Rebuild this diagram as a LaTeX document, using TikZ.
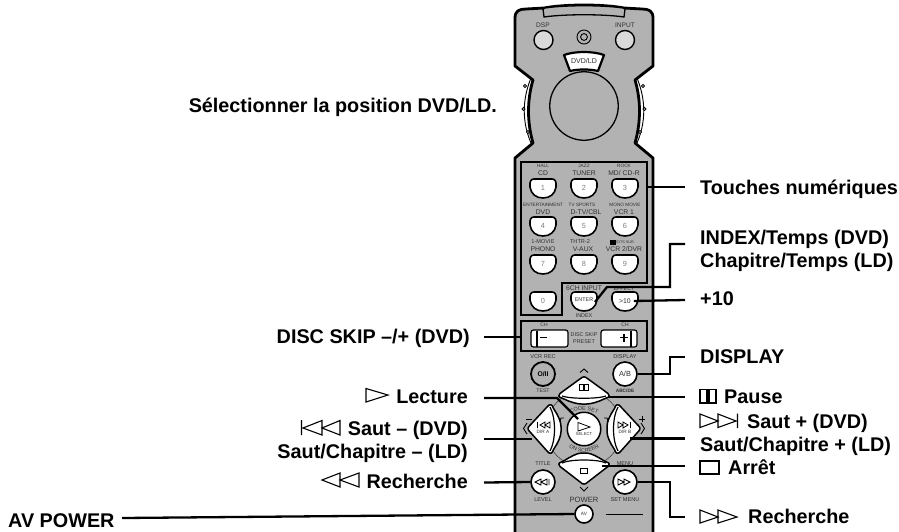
\documentclass[tikz,border=0pt]{standalone}
\usepackage{fontspec}
\setmainfont{Liberation Sans}
\usetikzlibrary{decorations.text}
\definecolor{bodygray}{HTML}{B2B2B2}
\definecolor{keygray}{HTML}{DADADA}
\definecolor{inkgray}{HTML}{303030}
\tikzset{
  lab/.style={font=\fontsize{19.8}{22}\selectfont\bfseries,inner sep=0pt,text=black},
  labR/.style={lab,anchor=base east},
  labL/.style={lab,anchor=base west},
  con/.style={draw=black,line width=2.3pt,line join=miter},
  sym/.style={draw=black,line width=1.1pt,fill=white,line join=miter},
  tiny1/.style={font=\fontsize{4.7}{5}\selectfont,text=inkgray,inner sep=0pt},
  small1/.style={font=\fontsize{6.8}{7}\selectfont,text=inkgray,inner sep=0pt},
  outline/.style={draw=black,line width=2.8pt,line join=round},
  roundbtn/.style={circle,draw=black,line width=1.6pt,fill=white,inner sep=0pt,minimum size=#1,font=\fontsize{6.8}{7}\selectfont,text=inkgray},
  pad/.style={draw=black,line width=1.5pt,fill=white,rounded corners=2.5pt,line join=round},
}
\newcommand{\keybtn}[3]{%
  \draw[draw=black,line width=1.6pt,fill=white] (#1-13,#2+8) .. controls (#1-13.5,#2+2) and (#1-12,#2) .. (#1-9,#2) -- (#1+9,#2) .. controls (#1+12,#2) and (#1+13.5,#2+2) .. (#1+13,#2+8) .. controls (#1+12,#2+15) and (#1+7,#2+19) .. (#1,#2+19) .. controls (#1-7,#2+19) and (#1-12,#2+15) .. (#1-13,#2+8) -- cycle;
  \node[small1,font=\fontsize{7.4}{8}\selectfont,text=gray] at (#1,#2+9) {#3};}
\begin{document}
\begin{tikzpicture}[x=1pt,y=-1pt]
\useasboundingbox (0,0) rectangle (899,531);
\clip (0,0) rectangle (899,531);
% side grips
\foreach \m in {0,1}{
\begin{scope}[shift={(1168*\m,0)},xscale={1-2*\m}]
  \fill[white] (531,78) .. controls (522,100) and (522,122) .. (531,143) -- (536,140) -- (536,80) -- cycle;
  \draw[line width=.9pt] (531,78) .. controls (522,100) and (522,122) .. (531,143);
  \draw[line width=.8pt,fill=bodygray] (525,86) circle (1.6);
  \draw[line width=.8pt,fill=bodygray] (523.5,109) circle (1.6);
  \draw[line width=.8pt,fill=bodygray] (528,132) circle (1.6);
\end{scope}}
% body
\draw[outline,fill=bodygray] (515,540) -- (515,158) -- (533,143) .. controls (527,122) and (527,100) .. (533,80) -- (515,66) -- (515,18) .. controls (515,11) and (519,9) .. (526,9) -- (544,8) .. controls (565,4) and (603,4) .. (624,8) -- (642,9) .. controls (649,9) and (653,11) .. (653,18) -- (653,66) -- (635,80) .. controls (641,100) and (641,122) .. (635,143) -- (653,158) -- (653,540);
% top slot
\draw[line width=1.3pt,fill=bodygray] (545,8) .. controls (565,5) and (603,5) .. (623,8) -- (625,9) -- (624,17) .. controls (604,14) and (564,14) .. (544,17) -- (543,9) -- cycle;
% top controls
\node[tiny1,font=\fontsize{6.6}{7}\selectfont] (dsplab) at (543,25) {DSP};
\node[tiny1,font=\fontsize{6.6}{7}\selectfont] (inplab) at (625,25) {INPUT};
\node[circle,draw=black,line width=1.4pt,fill=keygray,minimum size=19pt,inner sep=0pt] (dsp) at (543.5,40) {};
\node[circle,draw=black,line width=1.4pt,fill=keygray,minimum size=19pt,inner sep=0pt] (inp) at (625,40) {};
\draw[line width=.9pt] (584,37) circle (7);
\draw[line width=.9pt] (584,37) circle (3.4);
\draw[line width=2.2pt,fill=white,line join=round] (564,55) .. controls (575,51) and (593,51) .. (604,55) -- (598,71) .. controls (590,69) and (578,69) .. (570,71) -- cycle;
\node[font=\fontsize{7}{8}\selectfont,inner sep=0pt,text=inkgray] (dvdld) at (584,61) {DVD/LD};
\node[circle,draw=black,line width=1.3pt,fill=bodygray,minimum size=68.5pt,inner sep=0pt] (dial) at (584,106) {};
% keypad frame
\draw[draw=black,line width=2.3pt] (521,162) -- (647,162) -- (647,283) -- (562,283) -- (562,315) -- (521,315) -- cycle;
\draw[draw=black,line width=2.3pt] (521,321) rectangle (647,351);
\node (keybox) at (647,187) [inner sep=0pt] {};
\node (skipbox) at (521,337) [inner sep=0pt] {};
% key labels
\node[tiny1] at (543,166) {HALL}; \node[small1] at (543,173) {CD};
\node[tiny1] at (584,166) {JAZZ}; \node[small1] at (584,173) {TUNER};
\node[tiny1] at (624,166) {ROCK}; \node[small1] at (624,173) {MD/ CD-R};
\node[tiny1] at (543,205) {ENTERTAINMENT}; \node[small1] at (543,212) {DVD};
\node[tiny1] at (582,205) {TV SPORTS}; \node[small1] at (586,212) {D-TV/CBL};
\node[tiny1] at (625,205) {MONO MOVIE}; \node[small1] at (624,212) {VCR 1};
\node[small1,font=\fontsize{5.6}{6}\selectfont] at (543,242) {1-MOVIE}; \node[small1] at (543,249) {PHONO};
\node[small1,font=\fontsize{5.6}{6}\selectfont] at (580,242) {THTR-2}; \node[small1] at (583,249) {V-AUX};
\fill (610,239.5) rectangle (615.5,244.5);
\node[tiny1,anchor=west,font=\fontsize{3.8}{4}\selectfont] at (616,242) {/DTS SUR.}; \node[small1] at (624,249) {VCR 2/DVR};
\keybtn{543}{179}{1}\keybtn{584}{179}{2}\keybtn{625}{179}{3}
\keybtn{543}{217}{4}\keybtn{584}{217}{5}\keybtn{625}{217}{6}
\keybtn{543}{255}{7}\keybtn{584}{255}{8}\keybtn{625}{255}{9}
\keybtn{543}{292}{0}
\keybtn{584}{292}{}
\keybtn{625}{292}{}
\node[small1] at (584,288) {6CH INPUT};
\node[tiny1,font=\fontsize{5.4}{6}\selectfont] at (584,316) {INDEX};
\node[tiny1,font=\fontsize{5.4}{6}\selectfont] at (624,289) {EFFECT};
\node[tiny1,font=\fontsize{5.4}{6}\selectfont] (enter) at (584,300) {ENTER};
\node[small1] (ten) at (625,301) {>10};
% disc skip
\node[tiny1,font=\fontsize{5}{6}\selectfont] at (544,325) {CH};
\node[tiny1,font=\fontsize{5}{6}\selectfont] at (625,325) {CH};
\node[tiny1,font=\fontsize{5.4}{6}\selectfont] at (584,335) {DISC SKIP};
\node[tiny1,font=\fontsize{5.4}{6}\selectfont] at (584,342) {PRESET};
\draw[line width=1.2pt,fill=white,rounded corners=2.5pt] (531,330) rectangle (568,347);
\draw[line width=1.2pt,fill=white,rounded corners=2.5pt] (601,330) rectangle (637,347);
\draw[line width=1.2pt] (537,330.5) -- (537,346.5) (631,330.5) -- (631,346.5);
\draw[line width=1.1pt] (540,337.5) -- (547,337.5) (620,337.5) -- (628,337.5) (624,333.5) -- (624,341.5);
% mid buttons
\node[tiny1,font=\fontsize{5.6}{6}\selectfont] at (543,357) {VCR REC};
\node[tiny1,font=\fontsize{5.6}{6}\selectfont] at (625,357) {DISPLAY};
\node[roundbtn=24pt,line width=1.8pt,fill=bodygray,text=black,font=\fontsize{6.8}{7}\selectfont\bfseries] (vcr) at (543,374) {O/II};
\node[roundbtn=24pt,font=\fontsize{7.4}{8}\selectfont] (ab) at (625,374) {A/B};
\node[tiny1,font=\fontsize{5.2}{6}\selectfont] at (543,391) {TEST};
\node[tiny1,font=\fontsize{4.8}{6}\selectfont\bfseries] at (625,391) {ABC/DE};
% ring
\draw[line width=.5pt,draw=inkgray] (584,429) circle (38);
\draw[line width=.9pt] (559,424) -- (561,418) -- (564,418) (609,424) -- (607,418) -- (604,418);
% chevrons
\draw[line width=.9pt] (580,372.5) -- (584,369) -- (588,372.5);
\draw[line width=.9pt] (580,487) -- (584,491) -- (588,487);
\draw[line width=.9pt] (527,423) -- (523.5,428.5) -- (527,434);
\draw[line width=.9pt] (641,423) -- (644.5,428.5) -- (641,434);
\draw[line width=.9pt] (526,419) -- (532,419) (639,419) -- (645,419) (642,416) -- (642,422);
% dpad: top
\draw[pad] (584,376) -- (606,392) .. controls (610,395) and (609,397) .. (606,398) .. controls (598,402) and (591,404) .. (584,404) .. controls (577,404) and (570,402) .. (562,398) .. controls (559,397) and (558,395) .. (562,392) -- cycle;
\draw[line width=1.2pt] (562,396) .. controls (570,399) and (598,399) .. (606,396);
% bottom
\draw[pad] (584,485) -- (606,468) .. controls (610,465) and (609,463) .. (606,462) .. controls (598,457) and (591,453) .. (584,453) .. controls (577,453) and (570,457) .. (562,462) .. controls (559,463) and (558,465) .. (562,468) -- cycle;
\draw[line width=1.2pt] (562,463) .. controls (570,459) and (598,459) .. (606,463);
% left
\draw[pad] (527,428.5) -- (547,407) .. controls (550,404) and (552,405) .. (553,408) .. controls (558,415) and (561,422) .. (561,429) .. controls (561,436) and (558,443) .. (553,450) .. controls (552,453) and (550,454) .. (547,451) -- cycle;
\draw[line width=1.2pt] (550,407) .. controls (556,418) and (556,440) .. (550,451);
% right
\draw[pad] (641,428.5) -- (621,407) .. controls (618,404) and (616,405) .. (615,408) .. controls (610,415) and (607,422) .. (607,429) .. controls (607,436) and (610,443) .. (615,450) .. controls (616,453) and (618,454) .. (621,451) -- cycle;
\draw[line width=1.2pt] (618,407) .. controls (612,418) and (612,440) .. (618,451);
% arc texts
\path[postaction={decorate,decoration={text along path,text align=center,text={|\fontsize{5.4}{6}\selectfont\color{inkgray}|CODE SET}}}] (566,418) .. controls (572,408) and (596,408) .. (602,418);
\path[postaction={decorate,decoration={text along path,text align=center,text={|\fontsize{5.4}{6}\selectfont\color{inkgray}|ON SCREEN}}}] (563,441) .. controls (572,456) and (596,456) .. (605,441);
% dpad icons
\draw[line width=1pt,fill=white] (579.5,384) rectangle (583.5,390.5) (584.8,384) rectangle (588.8,390.5);
\draw[line width=.9pt,fill=white] (580.5,468.5) rectangle (587.5,473);
\draw[line width=.8pt] (537.5,422) -- (537.5,428) (545,422) -- (540,425) -- (545,428) -- cycle (550,422) -- (545,425) -- (550,428) -- cycle;
\draw[line width=.8pt] (630.5,422) -- (630.5,428) (623,422) -- (628,425) -- (623,428) -- cycle (618,422) -- (623,425) -- (618,428) -- cycle;
\node[tiny1] at (543,432) {DIR A};
\node[tiny1] at (625,432) {DIR B};
% select
\node[roundbtn=33.5pt,line width=1.5pt] (sel) at (584,429) {};
\draw[line width=.8pt] (578,422.5) -- (578,431) -- (590,427) -- cycle;
\node[tiny1,font=\fontsize{4.2}{5}\selectfont] at (584,434.5) {SELECT};
% lower buttons
\node[tiny1,font=\fontsize{5.6}{6}\selectfont] at (543,464) {TITLE};
\node[tiny1,font=\fontsize{5.6}{6}\selectfont] at (625,464) {MENU};
\node[roundbtn=24pt] (rew) at (543,482) {};
\node[roundbtn=24pt] (ff) at (625,482) {};
\draw[line width=.9pt] (535,482) -- (541,479) -- (541,485) -- cycle (541,482) -- (547,479) -- (547,485) -- cycle (549,479) -- (549,485);
\draw[line width=.9pt] (618,479) -- (624,482) -- (618,485) -- cycle (624,479) -- (630,482) -- (624,485) -- cycle;
\node[tiny1,font=\fontsize{5.6}{6}\selectfont] at (543,500) {LEVEL};
\node[tiny1,font=\fontsize{5.6}{6}\selectfont] at (625,500) {SET MENU};
\node[small1,font=\fontsize{7.6}{8}\selectfont] at (584,500) {POWER};
\draw[line width=.9pt] (525,514) -- (562,514) (606,514) -- (643,514);
\node[roundbtn=18pt,font=\fontsize{4.8}{5}\selectfont] (av) at (584,514) {AV};
% labels
\node[labR] (lsel) at (497,112) {Sélectionner la position DVD/LD.};
\node[labL] (ltou) at (700,194) {Touches numériques};
\node[labL] (lidx) at (700,244) {INDEX/Temps (DVD)};
\node[labL] (lchap) at (700,267) {Chapitre/Temps (LD)};
\node[labL] (lten) at (700,305) {+10};
\node[labR] (ldisc) at (470,343) {DISC SKIP –/+ (DVD)};
\node[labL] (ldisp) at (700,363) {DISPLAY};
\node[labL] (lpau) at (724,403) {Pause};
\node[labL] (lsp) at (747,428) {Saut + (DVD)};
\node[labL] (lsp2) at (700,451) {Saut/Chapitre + (LD)};
\node[labL] (lstop) at (728,474) {Arrêt};
\node[labL] (lffw) at (748,523) {Recherche};
\node[labR] (llec) at (468,403) {Lecture};
\node[labR] (lsm) at (468,435) {Saut – (DVD)};
\node[labR] (lsm2) at (468,458) {Saut/Chapitre – (LD)};
\node[labR] (lrew) at (468,488) {Recherche};
\node[labL] (lav) at (8,527) {AV POWER};
% label symbols
\draw[sym] (366,388.5) -- (366,402) -- (388,395) -- cycle;
\draw[sym] (303,428) -- (322,420.5) -- (322,435) -- cycle (322,428) -- (340,420.5) -- (340,435) -- cycle (301.5,420) -- (301.5,435);
\draw[sym] (322,480) -- (340,473) -- (340,487) -- cycle (340,480) -- (359,473) -- (359,487) -- cycle;
\draw[sym] (700,389.5) rectangle (707,403) (709,389.5) rectangle (716,403);
\draw[sym] (700,414) -- (718,421) -- (700,427.5) -- cycle (718,414) -- (736,421) -- (718,427.5) -- cycle (737.5,413.5) -- (737.5,428);
\draw[sym] (700,461) rectangle (719,474);
\draw[sym] (700,510) -- (718,517) -- (700,523) -- cycle (718,510) -- (737,517) -- (718,523) -- cycle;
% connector ends
\coordinate (etou) at (685,187);
\coordinate (eidx) at (685,244);
\coordinate (eten) at (685,300);
\coordinate (edisc) at (484,337);
\coordinate (edisp) at (685,357);
\coordinate (epau) at (685,397);
\coordinate (esp) at (685,438.5);
\coordinate (estop) at (685,466);
\coordinate (effw) at (685,517);
\coordinate (elec) at (484,398);
\coordinate (esm) at (484,439);
\coordinate (erew) at (484,482.5);
\coordinate (eav) at (122,518);
\coordinate (dpau) at (608,397);
\coordinate (dsp2) at (630,438.5);
\coordinate (dsm) at (532,439);
\coordinate (dstop) at (602,466);
\coordinate (dsel) at (578,419);
% connectors
\draw[con] (keybox.center) -- (etou);
\draw[con] (595,302) -- (607,287) -- (670,287) |- (eidx);
\draw[con] (ten.east) ++(3,0) -- (eten);
\draw[con] (edisc) -- (skipbox.center);
\draw[con] (ab.east) -- (670,374) |- (edisp);
\draw[con] (dpau) -- (epau);
\draw[con] (dsp2) -- (esp);
\draw[con] (dstop) -- (estop);
\draw[con] (ff.east) -- (670,482) |- (effw);
\draw[con] (elec) -- (557,398) -- (dsel);
\draw[con] (esm) -- (dsm);
\draw[con] (erew) -- (rew.west);
\draw[con] (eav) -- (av.west);
\end{tikzpicture}
\end{document}
